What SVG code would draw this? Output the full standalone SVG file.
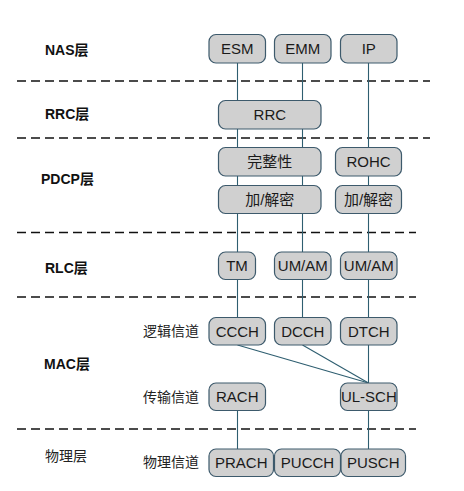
<svg xmlns="http://www.w3.org/2000/svg" width="464" height="491" viewBox="0 0 464 491">
<style>
.bg{fill:#ffffff}
.box{fill:#d0d0d0;stroke:#3d5a6c;stroke-width:1.2}
.t{font-family:"Liberation Sans",Arial,"Noto Sans CJK SC",sans-serif;font-size:15px;fill:#1a1a1a;text-anchor:middle}
.lay{font-family:"Liberation Sans",Arial,"Noto Sans CJK SC",sans-serif;font-size:14px;font-weight:bold;fill:#111}
.ch{font-family:"Liberation Sans",Arial,"Noto Sans CJK SC",sans-serif;font-size:14px;fill:#222}
.dash{stroke:#111;stroke-width:1.3;stroke-dasharray:9,5;fill:none}
.ln{stroke:#2e5e70;stroke-width:1.1;fill:none}
</style>
<rect class="bg" width="464" height="491"/>
<g id="separators">
<line class="dash" x1="17" y1="81" x2="430" y2="81"/>
<line class="dash" x1="17" y1="138" x2="430" y2="138"/>
<line class="dash" x1="17" y1="232.5" x2="416" y2="232.5"/>
<line class="dash" x1="17" y1="297" x2="416" y2="297"/>
<line class="dash" x1="17" y1="429" x2="416" y2="429"/>
</g>
<g id="layer-labels">
<text class="lay" x="45" y="55">NAS层</text>
<text class="lay" x="45" y="119">RRC层</text>
<text class="lay" x="41" y="184">PDCP层</text>
<text class="lay" x="45" y="273">RLC层</text>
<text class="lay" x="44" y="369">MAC层</text>
<text class="ch" x="45" y="461">物理层</text>
<text class="ch" x="143" y="336">逻辑信道</text>
<text class="ch" x="143" y="402">传输信道</text>
<text class="ch" x="143" y="467">物理信道</text>
</g>
<g id="connectors">
<line class="ln" x1="237.5" y1="63" x2="237.5" y2="100"/>
<line class="ln" x1="302.5" y1="63" x2="302.5" y2="100"/>
<line class="ln" x1="368.5" y1="63" x2="368.5" y2="147"/>
<line class="ln" x1="237.5" y1="129" x2="237.5" y2="147"/>
<line class="ln" x1="302.5" y1="129" x2="302.5" y2="147"/>
<line class="ln" x1="237.5" y1="176" x2="237.5" y2="185"/>
<line class="ln" x1="302.5" y1="176" x2="302.5" y2="185"/>
<line class="ln" x1="368.5" y1="176" x2="368.5" y2="185"/>
<line class="ln" x1="237.5" y1="213" x2="237.5" y2="252"/>
<line class="ln" x1="302.5" y1="213" x2="302.5" y2="252"/>
<line class="ln" x1="368.5" y1="213" x2="368.5" y2="252"/>
<line class="ln" x1="237.5" y1="279" x2="237.5" y2="317"/>
<line class="ln" x1="302.5" y1="279" x2="302.5" y2="317"/>
<line class="ln" x1="368.5" y1="279" x2="368.5" y2="317"/>
<line class="ln" x1="368.5" y1="345" x2="368.5" y2="383"/>
<line class="ln" x1="237.5" y1="345" x2="368.5" y2="383"/>
<line class="ln" x1="302.5" y1="345" x2="368.5" y2="383"/>
<line class="ln" x1="237.5" y1="411" x2="237.5" y2="449"/>
<line class="ln" x1="368.5" y1="411" x2="368.5" y2="449"/>
</g>
<g id="ESM"><rect class="box" x="209" y="34.5" width="56.5" height="28.5" rx="7"/><text class="t" x="237.3" y="54">ESM</text></g>
<g id="EMM"><rect class="box" x="274.5" y="34.5" width="56.5" height="28.5" rx="7"/><text class="t" x="302.8" y="54">EMM</text></g>
<g id="IP"><rect class="box" x="340.5" y="34.5" width="56.5" height="28.5" rx="7"/><text class="t" x="368.8" y="54">IP</text></g>
<g id="RRC"><rect class="box" x="218.5" y="100.5" width="102.5" height="28.5" rx="7"/><text class="t" x="269.8" y="120">RRC</text></g>
<g id="integrity"><rect class="box" x="218.5" y="147.5" width="102.5" height="28.5" rx="7"/><text class="t" x="269.8" y="167">完整性</text></g>
<g id="ROHC"><rect class="box" x="335.5" y="147.5" width="66" height="28.5" rx="7"/><text class="t" x="368.5" y="167">ROHC</text></g>
<g id="cipher1"><rect class="box" x="218.5" y="185.5" width="102.5" height="28" rx="7"/><text class="t" x="269.8" y="205">加/解密</text></g>
<g id="cipher2"><rect class="box" x="335.5" y="185.5" width="66" height="28" rx="7"/><text class="t" x="368.5" y="205">加/解密</text></g>
<g id="TM"><rect class="box" x="218.5" y="252" width="37" height="27.5" rx="7"/><text class="t" x="237" y="271">TM</text></g>
<g id="UMAM1"><rect class="box" x="274.5" y="252" width="56.5" height="27.5" rx="7"/><text class="t" x="302.8" y="271">UM/AM</text></g>
<g id="UMAM2"><rect class="box" x="340.5" y="252" width="56.5" height="27.5" rx="7"/><text class="t" x="368.8" y="271">UM/AM</text></g>
<g id="CCCH"><rect class="box" x="209" y="317.5" width="56.5" height="27.5" rx="7"/><text class="t" x="237.3" y="336.5">CCCH</text></g>
<g id="DCCH"><rect class="box" x="274.5" y="317.5" width="56.5" height="27.5" rx="7"/><text class="t" x="302.8" y="336.5">DCCH</text></g>
<g id="DTCH"><rect class="box" x="340.5" y="317.5" width="56.5" height="27.5" rx="7"/><text class="t" x="368.8" y="336.5">DTCH</text></g>
<g id="RACH"><rect class="box" x="209" y="383" width="56.5" height="27.5" rx="7"/><text class="t" x="237.3" y="402">RACH</text></g>
<g id="ULSCH"><rect class="box" x="340.5" y="383" width="56.5" height="27.5" rx="7"/><text class="t" x="368.8" y="402">UL-SCH</text></g>
<g id="PRACH"><rect class="box" x="209" y="449" width="64.5" height="27.5" rx="7"/><text class="t" x="241.3" y="468">PRACH</text></g>
<g id="PUCCH"><rect class="box" x="274.5" y="449" width="66" height="27.5" rx="7"/><text class="t" x="307.5" y="468">PUCCH</text></g>
<g id="PUSCH"><rect class="box" x="341" y="449" width="64.5" height="27.5" rx="7"/><text class="t" x="373.3" y="468">PUSCH</text></g>
</svg>
